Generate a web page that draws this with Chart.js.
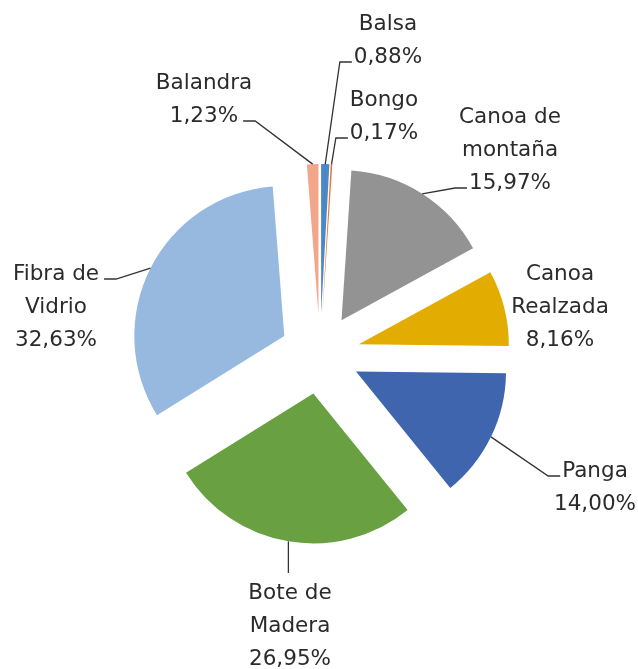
<!DOCTYPE html>
<html>
<head>
<meta charset="utf-8">
<script src="https://cdn.jsdelivr.net/npm/chart.js@4.4.1/dist/chart.umd.min.js"></script>
<style>
  html, body { margin: 0; padding: 0; background: #fff; }
</style>
</head>
<body>
<canvas id="pieChart" width="638" height="669"></canvas>
<script>
// tipos de embarcación (multi-line labels as arrays)
const categories = [
  "Balsa",
  "Bongo",
  ["Canoa de", "montaña"],
  ["Canoa", "Realzada"],
  "Panga",
  ["Bote de", "Madera"],
  ["Fibra de", "Vidrio"],
  "Balandra",
];
// participación en %
const shares = [0.88, 0.17, 15.97, 8.16, 14.0, 26.95, 32.63, 1.23];
const colors = [
  "#4B88C7",
  "#E8772E",
  "#939393",
  "#E2AC00",
  "#3F65AE",
  "#68A042",
  "#97B9E0",
  "#F3A68A",
];

// label blocks, relative to the pie centre: dx = text centre, dy = first baseline
// leader = side the line leaves the text from, line = which text line
const labelPlacement = [
  { dx: 68, dy: -324, leader: "left", line: 1 },
  { dx: 64, dy: -248, leader: "left", line: 1 },
  { dx: 190, dy: -231, leader: "left", line: 2 },
  { dx: 240, dy: -74, leader: null },
  { dx: 275, dy: 123, leader: "left", line: 0 },
  { dx: -30, dy: 245, leader: "top" },
  { dx: -264, dy: -74, leader: "right", line: 0 },
  { dx: -116, dy: -265, leader: "right", line: 1 },
];

const explode = 40;
const lineHeight = 33;
const labelFont = "21.5px 'DejaVu Sans'";
const textColor = "#2b2b2b";

function pct(v) {
  return v.toFixed(2).replace(".", ",") + "%";
}

// draw every slice pushed out along its mid angle
const explodedPie = {
  id: "explodedPie",
  beforeDatasetDraw(chart, args) {
    const ctx = chart.ctx;
    args.meta.data.forEach((arc) => {
      const mid = (arc.startAngle + arc.endAngle) / 2;
      ctx.save();
      ctx.translate(Math.cos(mid) * explode, Math.sin(mid) * explode);
      arc.draw(ctx);
      ctx.restore();
    });
    return false;
  },
};

// outside labels with leader lines
const sliceLabels = {
  id: "sliceLabels",
  afterDatasetsDraw(chart) {
    const ctx = chart.ctx;
    const arcs = chart.getDatasetMeta(0).data;
    ctx.save();
    ctx.font = labelFont;
    ctx.textBaseline = "alphabetic";
    ctx.textAlign = "left";
    arcs.forEach((arc, i) => {
      const p = labelPlacement[i];
      const name = Array.isArray(categories[i]) ? categories[i] : [categories[i]];
      const lines = name.concat([pct(shares[i])]);
      const cx = arc.x + p.dx;
      const y0 = arc.y + p.dy;

      const boxes = lines.map((t, k) => {
        const w = ctx.measureText(t).width;
        return { t, x: cx - w / 2, w, y: y0 + k * lineHeight };
      });

      ctx.fillStyle = textColor;
      boxes.forEach((b) => ctx.fillText(b.t, b.x, b.y));

      if (!p.leader) return;
      const mid = (arc.startAngle + arc.endAngle) / 2;
      const r = arc.outerRadius + explode;
      const ax = arc.x + Math.cos(mid) * r;
      const ay = arc.y + Math.sin(mid) * r;

      ctx.strokeStyle = "#333333";
      ctx.lineWidth = 1.3;
      ctx.beginPath();
      if (p.leader === "top") {
        ctx.moveTo(ax, ay);
        ctx.lineTo(ax, boxes[0].y - 26);
      } else {
        const b = boxes[p.line];
        const ly = b.y - 1;
        const x1 = p.leader === "left" ? b.x - 2 : b.x + b.w + 5;
        const x2 = p.leader === "left" ? x1 - 12 : x1 + 12;
        ctx.moveTo(ax, ay);
        ctx.lineTo(x2, ly);
        ctx.lineTo(x1, ly);
      }
      ctx.stroke();
    });
    ctx.restore();
  },
};

const pieChart = new Chart(document.getElementById("pieChart"), {
  type: "pie",
  data: {
    labels: categories,
    datasets: [
      {
        data: shares,
        backgroundColor: colors,
        borderWidth: 0,
      },
    ],
  },
  options: {
    responsive: false,
    animation: false,
    events: [],
    radius: 150,
    layout: { padding: { left: 12, right: 10, top: 49, bottom: 10 } },
    plugins: {
      legend: { display: false },
      tooltip: { enabled: false },
    },
  },
  plugins: [explodedPie, sliceLabels],
});
</script>
</body>
</html>
